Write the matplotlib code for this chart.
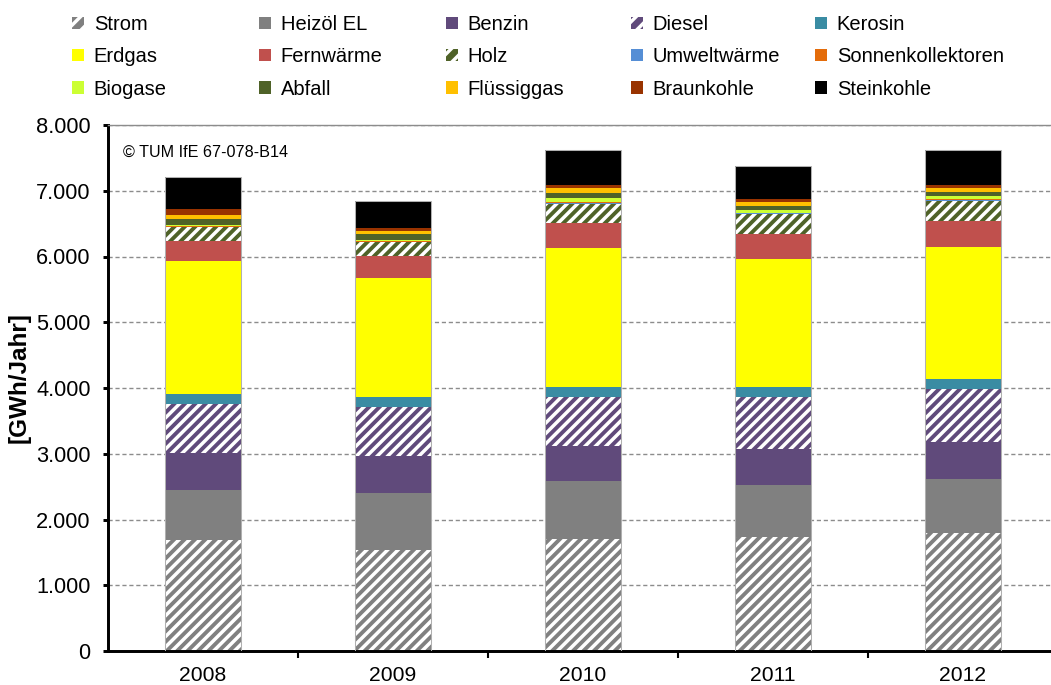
import matplotlib
matplotlib.use("Agg")
import matplotlib.pyplot as plt
from matplotlib.patches import Patch
from matplotlib.ticker import FuncFormatter, FixedLocator, MultipleLocator
import numpy as np

# Final energy use by carrier, GWh per year
years = ["2008", "2009", "2010", "2011", "2012"]
strom = [1684, 1536, 1703, 1734, 1790]
heizoel_el = [760, 862, 883, 791, 821]
benzin = [572, 563, 536, 550, 572]
diesel = [741, 755, 746, 793, 802]
kerosin = [152, 152, 152, 152, 152]
erdgas = [2027, 1800, 2102, 1937, 2007]
fernwaerme = [304, 340, 392, 385, 396]
holz = [204, 208, 284, 304, 309]
umweltwaerme = [10, 10, 15, 10, 10]
sonnenkollektoren = [12, 10, 12, 10, 10]
biogase = [18, 15, 60, 41, 51]
abfall = [86, 91, 85, 66, 66]
fluessiggas = [54, 53, 67, 61, 61]
braunkohle = [94, 38, 50, 36, 40]
steinkohle = [487, 411, 533, 511, 533]

labels = ["Strom", "Heizöl EL", "Benzin", "Diesel", "Kerosin",
          "Erdgas", "Fernwärme", "Holz", "Umweltwärme", "Sonnenkollektoren",
          "Biogase", "Abfall", "Flüssiggas", "Braunkohle", "Steinkohle"]
values = [strom, heizoel_el, benzin, diesel, kerosin,
          erdgas, fernwaerme, holz, umweltwaerme, sonnenkollektoren,
          biogase, abfall, fluessiggas, braunkohle, steinkohle]
colors = ["#808080", "#808080", "#604A7B", "#604A7B", "#3A8CA3",
          "#FFFF00", "#C0504D", "#4F6228", "#558ED5", "#E46C0A",
          "#CCFF33", "#4F6228", "#FFC000", "#993300", "#000000"]
hatched = [True, False, False, True, False,
           False, False, True, False, False,
           False, False, False, False, False]

plt.rcParams["font.family"] = ["Liberation Sans", "DejaVu Sans"]
plt.rcParams["hatch.linewidth"] = 2.0

DPI = 125
W, H = 1051, 685
fig = plt.figure(figsize=(W / DPI, H / DPI), dpi=DPI)
ax = fig.add_axes([108 / W, 34 / H, 943 / W, 526 / H])

x = np.arange(len(years))
width = 0.405
bottom = np.zeros(len(years))
handles = []
for lab, vals, col, hat in zip(labels, values, colors, hatched):
    vals = np.asarray(vals, dtype=float)
    if hat:
        ax.bar(x, vals, width, bottom=bottom, color=col, edgecolor="white",
               hatch="////", linewidth=0, zorder=2)
        handles.append(Patch(facecolor=col, edgecolor="white", hatch="///",
                             linewidth=0))
    else:
        ax.bar(x, vals, width, bottom=bottom, color=col, linewidth=0, zorder=2)
        handles.append(Patch(facecolor=col, linewidth=0))
    bottom += vals

# thin outline around each stacked column
ax.bar(x, bottom, width, fill=False, edgecolor="#b0b0b0", linewidth=0.6,
       zorder=3)

ax.set_xlim(-0.5, 4.5 - 7 / 190)
ax.set_ylim(0, 8000)
ax.yaxis.set_major_locator(MultipleLocator(1000))
ax.yaxis.set_major_formatter(
    FuncFormatter(lambda v, p: f"{int(round(v)):,}".replace(",", ".")))
ax.set_xticks(x)
ax.set_xticklabels(years)
ax.xaxis.set_minor_locator(FixedLocator(np.arange(0.5, 4.6, 1.0)))

ax.tick_params(axis="x", which="major", length=0, pad=8.5, labelsize=12.2)
ax.tick_params(axis="x", which="minor", length=4, width=1.2, direction="out")
ax.tick_params(axis="y", which="major", length=3, width=1.7, direction="out",
               pad=7, labelsize=12.5)

ax.yaxis.grid(True, linestyle=(0, (3, 2)), color="#8c8c8c", linewidth=0.8)
ax.set_axisbelow(True)

for side in ("left", "bottom"):
    ax.spines[side].set_linewidth(1.7)
    ax.spines[side].set_color("black")
ax.spines["right"].set_visible(False)
ax.spines["top"].set_color("#8c8c8c")
ax.spines["top"].set_linewidth(0.8)

fig.text(19 / W, (H - 378) / H, "[GWh/Jahr]", rotation=90, fontsize=14,
         fontweight="bold", ha="center", va="center")
fig.text(123 / W, (H - 152) / H, "© TUM IfE 67-078-B14", fontsize=9.3,
         ha="left", va="center")

# legend: five columns of three entries each
col_x = [72, 259, 446, 631, 815]
for j, cx in enumerate(col_x):
    idx = [j, j + 5, j + 10]
    fig.legend(handles=[handles[i] for i in idx], labels=[labels[i] for i in idx],
               loc="upper left", bbox_to_anchor=(cx / W, 1 - 15 / H),
               frameon=False, fontsize=11.6, handlelength=0.58,
               handleheight=0.58, handletextpad=0.5, labelspacing=0.66,
               borderpad=0, borderaxespad=0)

fig.savefig("out.png", dpi=DPI)
